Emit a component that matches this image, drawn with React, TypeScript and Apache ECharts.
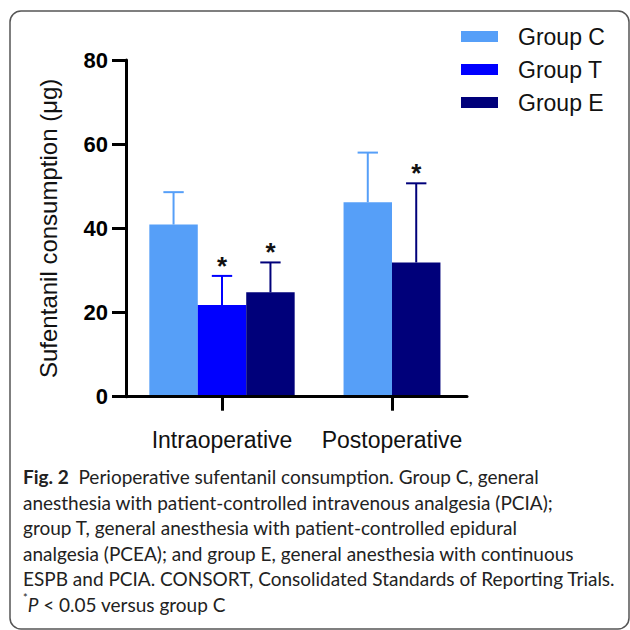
import React, { useEffect, useRef } from "react";
import * as echarts from "echarts";

const categories = ["Intraoperative", "Postoperative"];
const groupNames = ["Group C", "Group T", "Group E"];
const groupColors = ["#569ff8", "#0000ff", "#00007a"];

const meanC: (number | null)[] = [40.9, 46.2];
const sdC: (number | null)[] = [7.7, 11.8];
const meanT: (number | null)[] = [21.8, null];
const sdT: (number | null)[] = [6.9, null];
const meanE: (number | null)[] = [24.8, 31.9];
const sdE: (number | null)[] = [7.1, 18.8];
const sigC = [0, 0];
const sigT = [1, 0];
const sigE = [1, 1];

const yMin = 0;
const yMax = 80;
const yStep = 20;

const yTitle = "Sufentanil consumption (μg)";

const captionLines = [
  "{b|Fig. 2}  Perioperative sufentanil consumption. Group C, general",
  "anesthesia with patient-controlled intravenous analgesia (PCIA);",
  "group T, general anesthesia with patient-controlled epidural",
  "analgesia (PCEA); and group E, general anesthesia with continuous",
  "ESPB and PCIA. CONSORT, Consolidated Standards of Reporting Trials.",
  "{sup|*}{i|P} < 0.05 versus group C",
];

const means = [meanC, meanT, meanE];
const sds = [sdC, sdT, sdE];
const sigs = [sigC, sigT, sigE];

const BAR_FRAC = 0.285;
const CAP_FRAC = 0.42;
const ARIAL = '"Liberation Sans", Arial, sans-serif';

function slotInfo(gi: number, ci: number) {
  const present = means
    .map((m, i) => (m[ci] != null ? i : -1))
    .filter((i) => i >= 0);
  return { k: present.indexOf(gi), n: present.length };
}

export default function App() {
  const ref = useRef<HTMLDivElement>(null);
  useEffect(() => {
    if (!ref.current) return;
    const chart = echarts.init(ref.current, undefined, { renderer: "svg" });

    const series = groupNames.map((name, gi) => {
      const data: number[][] = [];
      categories.forEach((_, ci) => {
        const m = means[gi][ci];
        const s = sds[gi][ci];
        if (m != null && s != null) data.push([ci, m, s, sigs[gi][ci]]);
      });
      return {
        type: "custom",
        name,
        xAxisIndex: 1,
        yAxisIndex: 1,
        z: 2,
        itemStyle: { color: groupColors[gi] },
        encode: { x: 0, y: 1 },
        data,
        renderItem: (params: any, api: any) => {
          const ci = api.value(0);
          const mean = api.value(1);
          const sd = api.value(2);
          const sig = api.value(3);
          const { k, n } = slotInfo(gi, ci);
          const base = api.coord([ci, 0]);
          const band = api.size([1, 0])[0];
          const bw = band * BAR_FRAC;
          const cx = base[0] + (k - (n - 1) / 2) * bw;
          const top = api.coord([ci, mean])[1];
          const errTop = api.coord([ci, mean + sd])[1];
          const capW = bw * CAP_FRAC;
          const color = groupColors[gi];
          const children: any[] = [
            {
              type: "rect",
              shape: { x: cx - bw / 2, y: top, width: bw, height: base[1] - top },
              style: { fill: color },
            },
            {
              type: "line",
              shape: { x1: cx, y1: top, x2: cx, y2: errTop },
              style: { stroke: color, lineWidth: 2 },
            },
            {
              type: "line",
              shape: { x1: cx - capW / 2, y1: errTop, x2: cx + capW / 2, y2: errTop },
              style: { stroke: color, lineWidth: 2 },
            },
          ];
          if (sig) {
            children.push({
              type: "text",
              style: {
                text: "*",
                x: cx,
                y: errTop - 10,
                align: "center",
                verticalAlign: "middle",
                fontSize: 26,
                fontWeight: "bold",
                fontFamily: ARIAL,
                fill: "#111",
              },
            });
          }
          return { type: "group", children };
        },
      };
    });

    chart.setOption({
      animation: false,
      backgroundColor: "#ffffff",
      grid: [
        { left: 126, top: 60, width: 341, height: 336.7 },
        { left: 137, top: 60, width: 340, height: 336.7 },
      ],
      xAxis: [
        {
          type: "value",
          gridIndex: 0,
          min: 0,
          max: 1,
          z: 5,
          axisLine: { show: true, lineStyle: { color: "#000", width: 3 } },
          axisTick: { show: false },
          axisLabel: { show: false },
          splitLine: { show: false },
        },
        {
          type: "category",
          gridIndex: 1,
          data: categories,
          z: 5,
          axisLine: { show: false },
          axisTick: {
            show: true,
            interval: 0,
            alignWithLabel: true,
            length: 14,
            lineStyle: { color: "#000", width: 3 },
          },
          axisLabel: {
            interval: 0,
            hideOverlap: false,
            margin: 32,
            fontSize: 23,
            fontFamily: ARIAL,
            color: "#111",
          },
          splitLine: { show: false },
        },
      ],
      yAxis: [
        {
          type: "value",
          gridIndex: 0,
          min: yMin,
          max: yMax,
          interval: yStep,
          z: 5,
          name: yTitle,
          nameLocation: "middle",
          nameGap: 66,
          nameTextStyle: { fontSize: 24, fontFamily: ARIAL, color: "#111" },
          axisLine: { show: true, lineStyle: { color: "#000", width: 3 } },
          axisTick: { show: true, length: 14, lineStyle: { color: "#000", width: 3 } },
          axisLabel: {
            margin: 18,
            fontSize: 22,
            fontWeight: "bold",
            fontFamily: ARIAL,
            color: "#000",
          },
          splitLine: { show: false },
        },
        {
          type: "value",
          gridIndex: 1,
          min: yMin,
          max: yMax,
          interval: yStep,
          show: false,
        },
      ],
      legend: {
        orient: "vertical",
        left: 461,
        top: 25,
        padding: 0,
        itemWidth: 37,
        itemHeight: 11,
        itemGap: 10,
        icon: "rect",
        data: groupNames,
        textStyle: {
          fontSize: 23,
          fontFamily: ARIAL,
          color: "#111",
          lineHeight: 22,
          padding: [0, 0, 0, 15],
        },
      },
      graphic: [
        {
          type: "rect",
          shape: { x: 10, y: 11, width: 619, height: 618, r: 11 },
          style: { fill: "none", stroke: "#555", lineWidth: 1.5 },
          z: 0,
        },
        {
          type: "text",
          left: 23,
          top: 464,
          style: {
            text: captionLines.join("\n"),
            fontSize: 19,
            fontFamily: "Lato, sans-serif",
            fill: "#222",
            lineHeight: 25.5,
            rich: {
              b: { fontSize: 19, fontWeight: "bold", fontFamily: "Lato, sans-serif", fill: "#222", lineHeight: 25.5 },
              i: { fontSize: 19, fontStyle: "italic", fontFamily: "Lato, sans-serif", fill: "#222", lineHeight: 25.5 },
              sup: { fontSize: 11, fontFamily: "Lato, sans-serif", fill: "#222", verticalAlign: "top", lineHeight: 25.5 },
            },
          },
        },
      ],
      series,
    });

    return () => chart.dispose();
  }, []);

  return (
    <div
      ref={ref}
      style={{ position: "fixed", left: 0, top: 0, width: 630, height: 630 }}
    />
  );
}
